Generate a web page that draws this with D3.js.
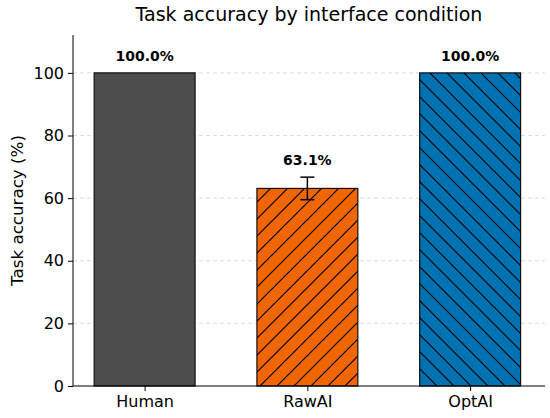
<!DOCTYPE html>
<html>
<title>Task accuracy</title>
<meta charset="UTF-8">
<script src="https://d3js.org/d3.v7.min.js"></script>
<style>
  body { margin: 0; background: white; }
  svg text { font-family: "DejaVu Sans", sans-serif; fill: black; }
  .tick line { stroke: black; }
  .grid line { stroke: #dddddd; stroke-dasharray: 4,3; }
</style>
<body>
<svg id="viz"></svg>
<script>
  var conditions = ["Human", "RawAI", "OptAI"];
  var accuracy = [100.0, 63.1, 100.0];
  var errors = [0, 3.6, 0];
  var colors = ["#4d4d4d", "#f26602", "#0072b2"];
  var hatches = [null, "fwd", "back"];
  var yTicks = [0, 20, 40, 60, 80, 100];

  var width = 550, height = 418;
  var plotLeft = 73, plotRight = 545, plotTop = 35, plotBottom = 386;

  var svg = d3.select("#viz").attr("width", width).attr("height", height);

  var x = d3.scaleLinear().domain([-0.44, 2.46]).range([plotLeft, plotRight]);
  var y = d3.scaleLinear().domain([0, 112.1]).range([plotBottom, plotTop]);
  var barW = 0.62;

  // hatch patterns
  var defs = svg.append("defs");
  function hatch(id, dir) {
    var p = defs.append("pattern").attr("id", id)
      .attr("patternUnits", "userSpaceOnUse")
      .attr("width", 17).attr("height", 17);
    if (dir == "fwd") {
      p.append("path").attr("d", "M-2,2 L2,-2 M0,17 L17,0 M15,19 L19,15");
    } else {
      p.append("path").attr("d", "M-2,15 L2,19 M0,0 L17,17 M15,-2 L19,2");
    }
    p.select("path").attr("stroke", "black").attr("stroke-width", 1.2);
  }
  hatch("fwd", "fwd");
  hatch("back", "back");

  // grid
  svg.append("g").attr("class", "grid")
    .selectAll("line").data(yTicks.filter(function(d){ return d > 0; }))
    .enter().append("line")
    .attr("x1", plotLeft).attr("x2", plotRight)
    .attr("y1", function(d){ return y(d); })
    .attr("y2", function(d){ return y(d); });

  var data = conditions.map(function(c, i){
    return {name: c, value: accuracy[i], err: errors[i], color: colors[i], hatch: hatches[i], i: i};
  });

  var bars = svg.append("g").selectAll("g").data(data).enter().append("g");

  function barRect(sel) {
    return sel
      .attr("x", function(d){ return x(d.i - barW/2); })
      .attr("width", function(d){ return x(d.i + barW/2) - x(d.i - barW/2); })
      .attr("y", function(d){ return y(d.value); })
      .attr("height", function(d){ return y(0) - y(d.value); });
  }

  barRect(bars.append("rect")).attr("fill", function(d){ return d.color; });

  barRect(bars.filter(function(d){ return d.hatch; }).append("rect"))
    .attr("fill", function(d){ return "url(#" + d.hatch + ")"; });

  barRect(bars.append("rect"))
    .attr("fill", "none").attr("stroke", "#111").attr("stroke-width", 1.2);

  // error bars
  var eb = bars.filter(function(d){ return d.err > 0; });
  eb.append("line")
    .attr("x1", function(d){ return x(d.i); }).attr("x2", function(d){ return x(d.i); })
    .attr("y1", function(d){ return y(d.value + d.err); })
    .attr("y2", function(d){ return y(d.value - d.err); })
    .attr("stroke", "black").attr("stroke-width", 1.5);
  [1, -1].forEach(function(s){
    eb.append("line")
      .attr("x1", function(d){ return x(d.i) - 7; }).attr("x2", function(d){ return x(d.i) + 7; })
      .attr("y1", function(d){ return y(d.value + s * d.err); })
      .attr("y2", function(d){ return y(d.value + s * d.err); })
      .attr("stroke", "black").attr("stroke-width", 1.5);
  });

  // value labels
  bars.append("text")
    .attr("x", function(d){ return x(d.i); })
    .attr("y", function(d){ return y(d.value + d.err) - 12; })
    .attr("text-anchor", "middle")
    .style("font-size", "14px").style("font-weight", "bold")
    .text(function(d){ return d.value.toFixed(1) + "%"; });

  // axes
  var yAxis = d3.axisLeft(y).tickValues(yTicks).tickSize(5).tickPadding(4);
  svg.append("g").attr("transform", "translate(" + plotLeft + ",0)").call(yAxis)
    .call(function(g){ g.selectAll("text").style("font-size", "16px"); })
    .call(function(g){ g.select(".domain").attr("d", "M0," + plotTop + "V" + plotBottom); });

  var xAxis = d3.axisBottom(x).tickValues([0, 1, 2])
    .tickFormat(function(d){ return conditions[d]; }).tickSize(5).tickPadding(5);
  svg.append("g").attr("transform", "translate(0," + plotBottom + ")").call(xAxis)
    .call(function(g){ g.selectAll("text").style("font-size", "16px"); })
    .call(function(g){ g.select(".domain").attr("d", "M" + plotLeft + ",0H" + plotRight); });

  svg.append("text")
    .attr("x", (plotLeft + plotRight) / 2).attr("y", 21)
    .attr("text-anchor", "middle").style("font-size", "19px")
    .text("Task accuracy by interface condition");

  svg.append("text")
    .attr("transform", "translate(23," + ((plotTop + plotBottom) / 2) + ") rotate(-90)")
    .attr("text-anchor", "middle").style("font-size", "16.7px")
    .text("Task accuracy (%)");
</script>
</body>
</html>
